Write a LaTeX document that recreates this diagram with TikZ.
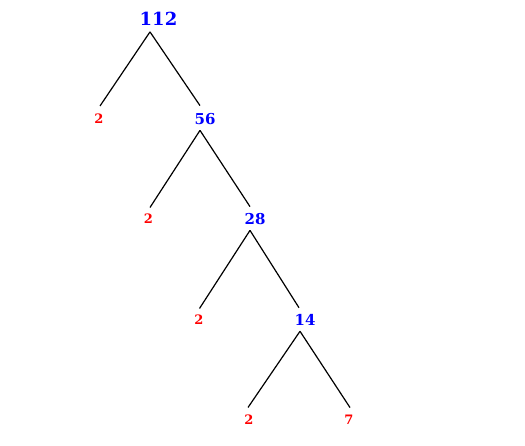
\documentclass[tikz,border=0pt]{standalone}
\usepackage{fontspec}
\setmainfont{DejaVu Serif}
\usepackage{tikz}
\usetikzlibrary{calc}

\begin{document}
\begin{tikzpicture}[
    x=1pt, y=-1pt,
    composite/.style={inner sep=0pt, text=blue, font=\bfseries\fontsize{15}{17}\selectfont},
    prime/.style={inner sep=0pt, text=red, font=\bfseries\fontsize{13}{15}\selectfont},
    branch/.style={line width=1.2pt}
]
\useasboundingbox (0,0) rectangle (525,445);

% Nodes
\node[composite, font=\bfseries\fontsize{18}{20}\selectfont] (n112) at (158.5,18.5) {112};
\node[prime] (p1) at (99,119) {2};
\node[composite] (n56) at (205,119) {56};
\node[prime] (p2) at (148.5,219) {2};
\node[composite] (n28) at (255,219) {28};
\node[prime] (p3) at (199,320) {2};
\node[composite] (n14) at (305,320) {14};
\node[prime] (p4) at (249,420) {2};
\node[prime] (p5) at (349,420) {7};

% Branches
\draw[branch] ($(n112.south)+(-8.5,6.5)$) -- ($(p1.north)+(1,-8)$);
\draw[branch] ($(n112.south)+(-8.5,6.5)$) -- ($(n56.north)+(-5,-7.5)$);
\draw[branch] ($(n56.south)+(-5,5.5)$) -- ($(p2.north)+(1.5,-6.5)$);
\draw[branch] ($(n56.south)+(-5,5.5)$) -- ($(n28.north)+(-5,-6.5)$);
\draw[branch] ($(n28.south)+(-5,5.5)$) -- ($(p3.north)+(0.5,-6.5)$);
\draw[branch] ($(n28.south)+(-5,5.5)$) -- ($(n14.north)+(-6,-6.5)$);
\draw[branch] ($(n14.south)+(-5,5.5)$) -- ($(p4.north)+(-1,-7.5)$);
\draw[branch] ($(n14.south)+(-5,5.5)$) -- ($(p5.north)+(1,-7.5)$);

\end{tikzpicture}
\end{document}
